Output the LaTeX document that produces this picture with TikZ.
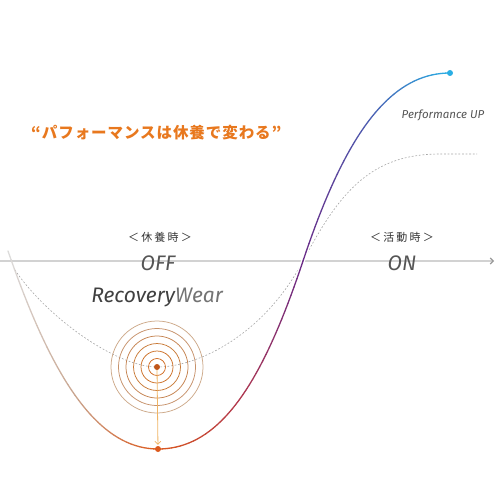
\documentclass[tikz,border=0pt]{standalone}
\usepackage{fontspec}
\setmainfont{Fira Sans}
\newfontfamily\jpfont{Noto Sans CJK JP}[LetterSpace=6]
\newfontfamily\jpwide{Noto Sans CJK JP}[LetterSpace=20]
\usetikzlibrary{arrows.meta}
\definecolor{titleorange}{HTML}{E8781E}
\definecolor{startgrey}{HTML}{DCDCDC}
\definecolor{tan}{HTML}{C9A58F}
\definecolor{loworange}{HTML}{DC5A1E}
\definecolor{crimson}{HTML}{B2384E}
\definecolor{perfpurple}{HTML}{6B2D88}
\definecolor{perfblue}{HTML}{4E5CB0}
\definecolor{perfcyan}{HTML}{2AAEE4}
\definecolor{labelgrey}{HTML}{555555}
\definecolor{arrowgold}{HTML}{F0B464}

% sample a bezier into coordinates #10..#140
\newcommand{\sampleseg}[5]{%
  \path (#2) .. controls (#3) and (#4) .. (#5)
    \foreach \i [evaluate=\i as \tpos using \i/40] in {0,...,40}{coordinate[pos=\tpos] (#1\i)};}
% colour the chords #1#2 .. #1#3 from #4 to #5
\newcommand{\gradrun}[5]{%
  \pgfmathtruncatemacro\gend{#3-1}%
  \foreach \k in {#2,...,\gend}{%
    \pgfmathtruncatemacro\kk{\k+1}%
    \pgfmathsetmacro\gw{100-100*(\k+0.5-#2)/(#3-#2)}%
    \draw[curve,color=#4!\gw!#5] (#1\k) -- (#1\kk);}}

\begin{document}
\begin{tikzpicture}[x=1pt,y=-1pt,
  curve/.style={line width=1.3pt,line cap=round},
  guide/.style={draw=gray!70,line width=0.6pt,dash pattern=on 1.8pt off 1.8pt},
  axis/.style={draw=gray!35,line width=1.1pt,-{Straight Barb[length=3pt,width=6pt,color=gray!80]}},
  ring/.style={line width=0.75pt},
  dot/.style={circle,inner sep=0pt,minimum size=6pt},
  phase/.style={font=\jpwide\fontsize{11}{11}\selectfont,text=black!80,inner sep=0pt},
  state/.style={font=\itshape\fontsize{21}{21}\selectfont,text=labelgrey,inner sep=0pt}]
\useasboundingbox (0,0) rectangle (500,500);

\coordinate (axstart) at (0,261);
\coordinate (axend) at (494,261);
\draw[axis] (axstart) -- (axend);

% dashed reference curve
\coordinate (g0) at (15,270);
\coordinate (gmin) at (157,367);
\coordinate (gmid) at (303,261);
\coordinate (gtop) at (440,154);
\coordinate (gend) at (477,154);
\draw[guide] (g0) .. controls (45,315) and (115,367) .. (gmin)
  .. controls (200,367) and (265,333) .. (gmid)
  .. controls (339,193) and (370,154) .. (gtop) -- (gend);

% recovery rings
\foreach \r/\c in {46/CDA98A,38.5/C6916A,31/C4824F,23.5/C87936,16/CC7027,8.5/D0691F}{
  \definecolor{ringcol}{HTML}{\c}
  \draw[ring,draw=ringcol] (gmin) circle (\r);}

% main curve
\coordinate (s0) at (8,251);
\coordinate (smin) at (158,449);
\coordinate (smid) at (303,261);
\coordinate (stop) at (450,73);
\sampleseg{L}{s0}{50,372}{95,449}{smin}
\sampleseg{M}{smin}{221,449}{263,381}{smid}
\sampleseg{U}{smid}{343,141}{387,73}{stop}
\draw[white,line width=4pt] (smin) .. controls (221,449) and (263,381) .. (smid)
  .. controls (343,141) and (387,73) .. (stop);
\gradrun{L}{0}{20}{startgrey}{tan}
\gradrun{L}{20}{40}{tan}{loworange}
\gradrun{M}{0}{20}{loworange}{crimson}
\gradrun{M}{20}{40}{crimson}{perfpurple}
\gradrun{U}{0}{20}{perfpurple}{perfblue}
\gradrun{U}{20}{40}{perfblue}{perfcyan}

\node[dot,fill={rgb,255:red,192;green,86;blue,26}] (core) at (gmin) {};
\node[dot,fill=loworange] (bottom) at (smin) {};
\node[dot,fill=perfcyan] (peak) at (stop) {};
\draw[line width=0.8pt,color=arrowgold,-{Straight Barb[length=3pt,width=6pt]},shorten >=1pt] (core) -- (bottom);

\node[font=\jpfont\bfseries\fontsize{15.5}{15.5}\selectfont,text=titleorange,anchor=west,inner sep=0pt] (slogan) at (31,133) {“パフォーマンスは休養で変わる”};
\node[phase] (rest) at (160,237) {＜休養時＞};
\node[state] (off) at (158,263) {OFF};
\node[phase] (active) at (402,237) {＜活動時＞};
\node[state] (on) at (402,263) {ON};
\node[font=\itshape\fontsize{21}{21}\selectfont,inner sep=0pt] (wear) at (157,297) {\textcolor{black!75}{Recovery}\textcolor{black!55}{Wear}};
\node[font=\itshape\fontsize{11.5}{11.5}\selectfont,text=labelgrey,inner sep=0pt] (perf) at (443,115) {Performance UP};
\end{tikzpicture}
\end{document}
